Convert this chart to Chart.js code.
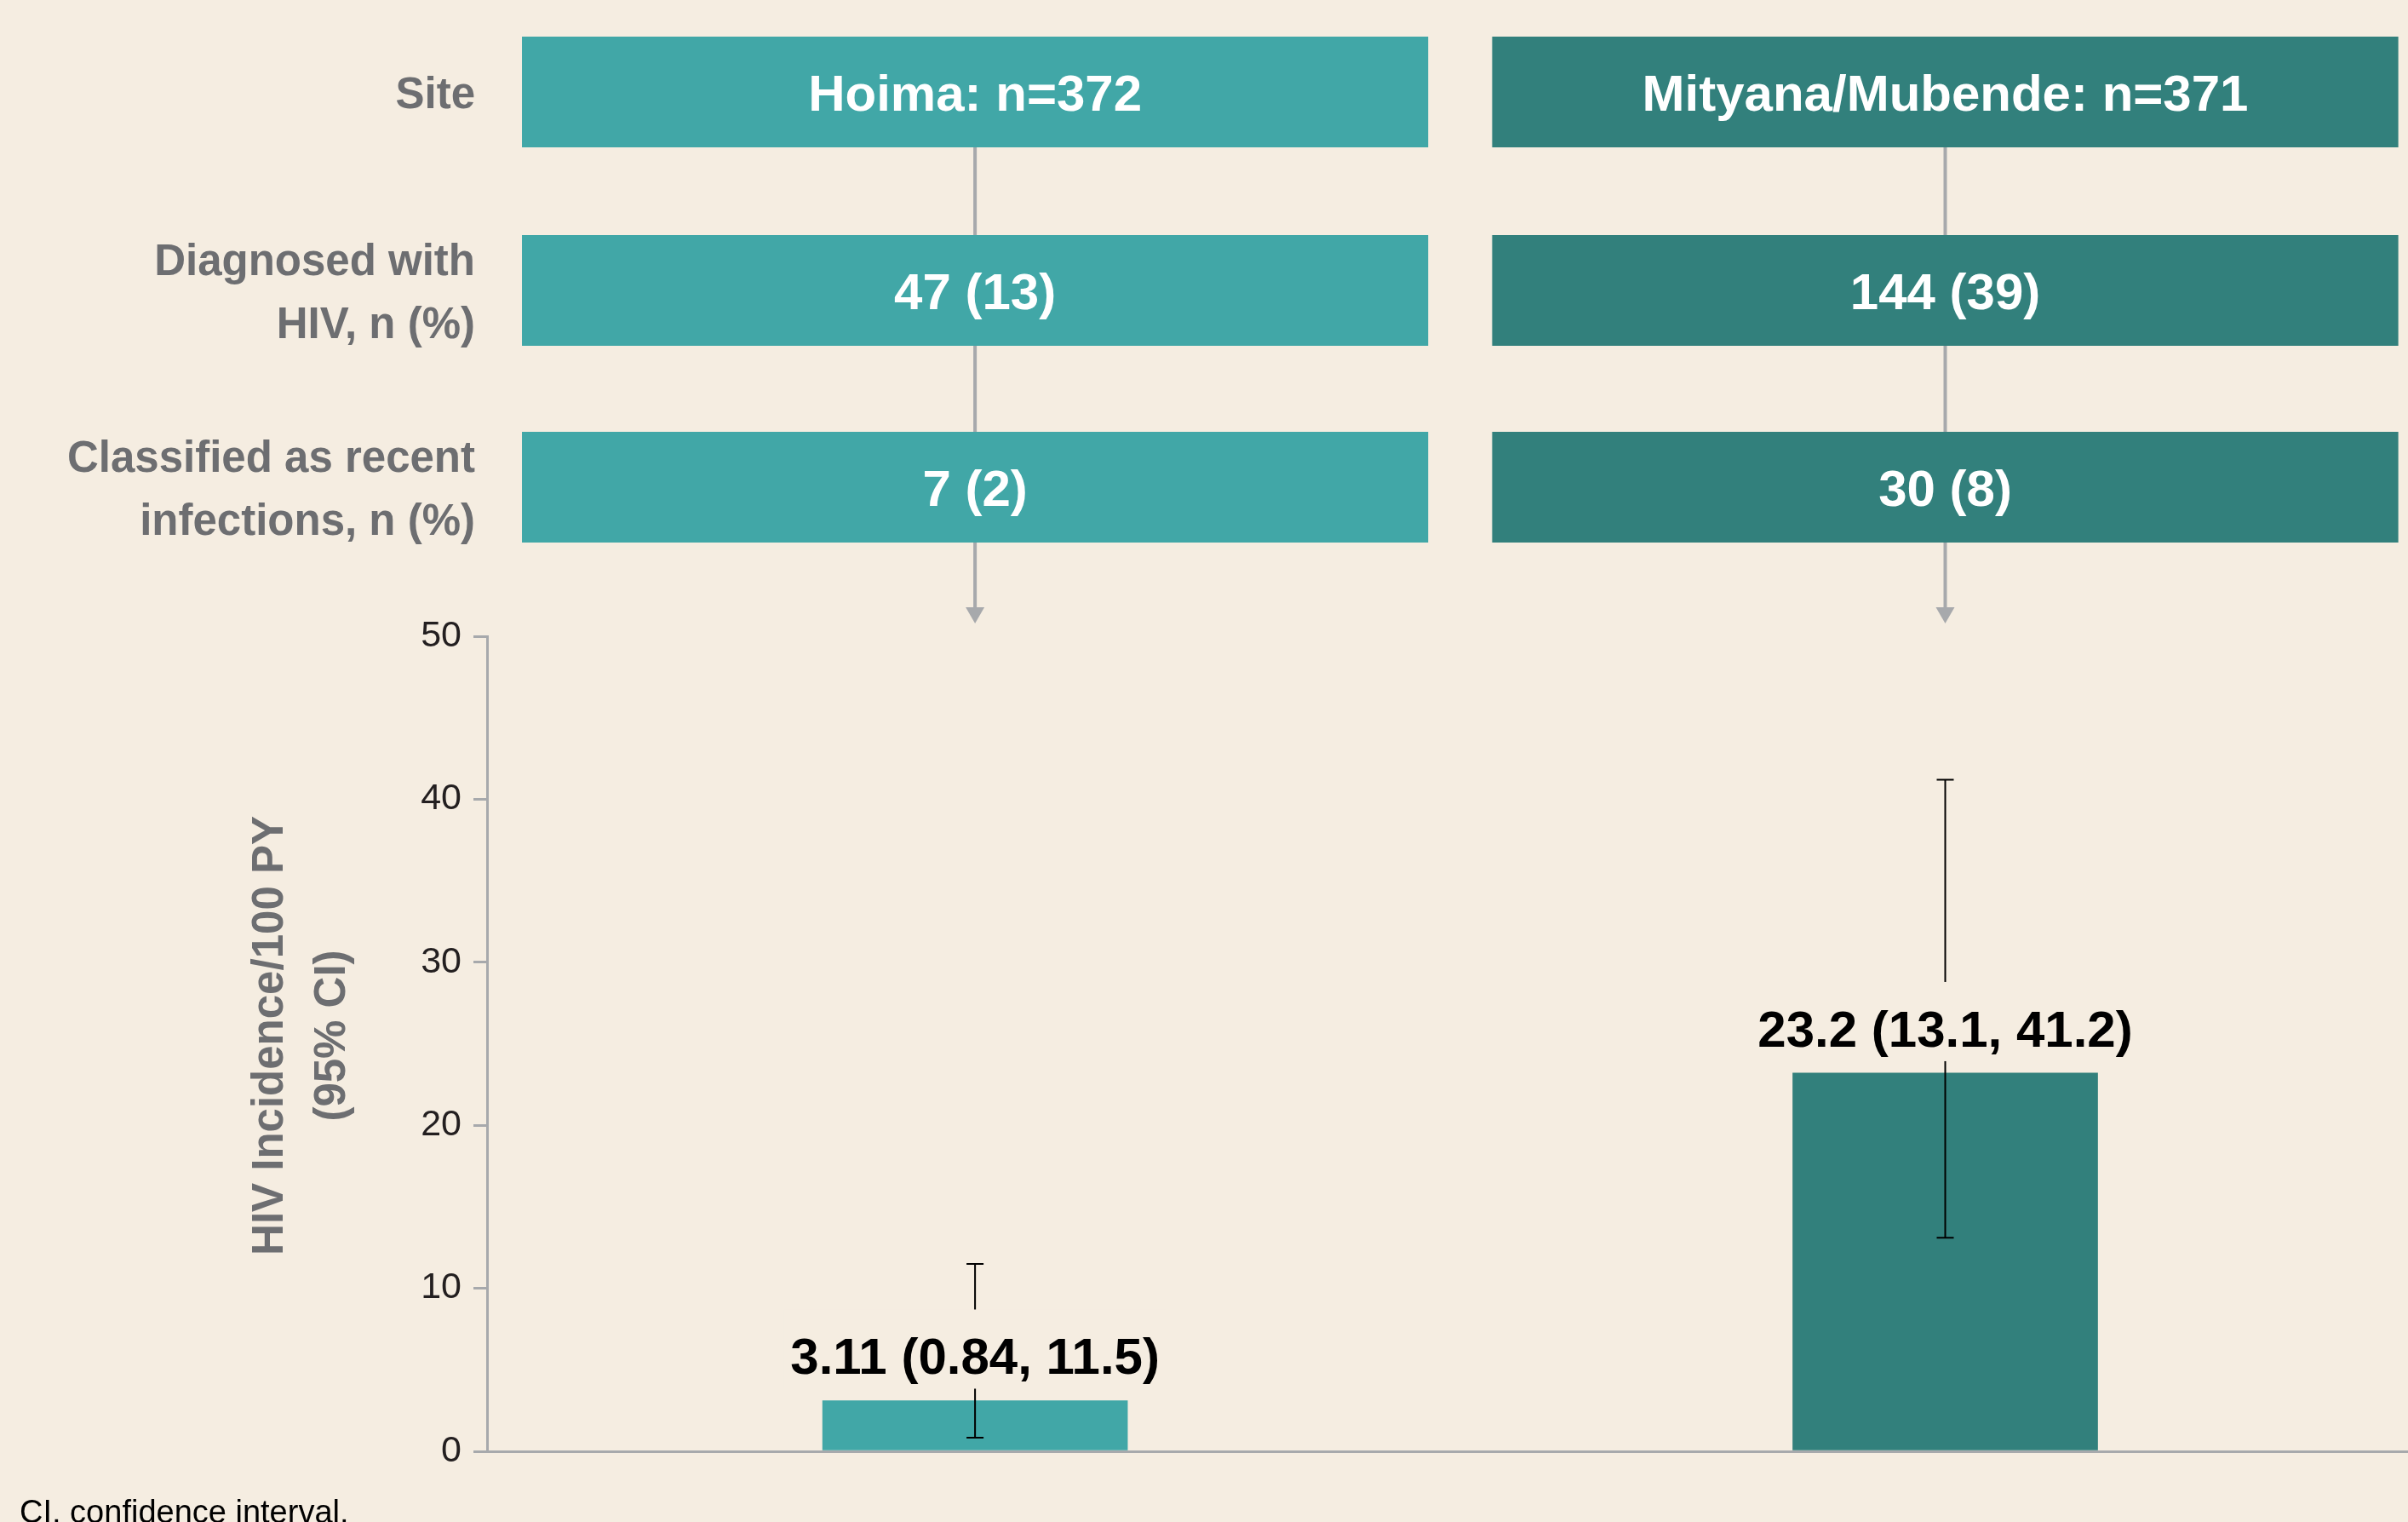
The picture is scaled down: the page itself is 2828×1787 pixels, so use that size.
<!DOCTYPE html>
<html>
<head>
<meta charset="utf-8">
<script src="https://cdn.jsdelivr.net/npm/chart.js@4/dist/chart.umd.min.js"></script>
<style>
  html, body { margin: 0; padding: 0; background: #f5ede1; overflow: hidden; }
  #wrap { width: 2828px; height: 1787px; position: relative; }
  canvas { display: block; }
</style>
</head>
<body>
<div id="wrap"><canvas id="c" width="2828" height="1787"></canvas></div>
<script>
// ---- data ----
const sites = ['Hoima', 'Mityana/Mubende'];
const sampleN = [372, 371];
const diagnosedN = [47, 144];
const diagnosedPct = [13, 39];
const recentN = [7, 30];
const recentPct = [2, 8];
const incidence = [3.11, 23.2];
const ciLow = [0.84, 13.1];
const ciHigh = [11.5, 41.2];
const rowLabels = [['Site'], ['Diagnosed with', 'HIV, n (%)'], ['Classified as recent', 'infections, n (%)']];
const yTitle = ['HIV Incidence/100 PY', '(95% CI)'];
const yTicks = [0, 10, 20, 30, 40, 50];
const footnote = 'CI, confidence interval.';

// ---- styles ----
const siteColors = ['#41a7a7', '#32807c'];
const BG = '#f5ede1';
const GRAY_TEXT = '#6d6e71';
const AXIS_GRAY = '#a7a9ac';
const FONT = '"Liberation Sans", Arial, Helvetica, sans-serif';

const rowTops = [43, 276, 507];
const rowH = 130;

const decor = {
  id: 'decor',
  beforeDraw(chart) {
    const ctx = chart.ctx;
    ctx.save();
    ctx.fillStyle = BG;
    ctx.fillRect(0, 0, chart.width, chart.height);
    ctx.restore();
  },
  afterDatasetsDraw(chart) {
    const ctx = chart.ctx;
    const xs = chart.scales.x, ys = chart.scales.y;
    const unit = xs.getPixelForValue(2) - xs.getPixelForValue(1);
    const rowTexts = [
      sites.map((s, i) => `${s}: n=${sampleN[i]}`),
      diagnosedN.map((n, i) => `${n} (${diagnosedPct[i]})`),
      recentN.map((n, i) => `${n} (${recentPct[i]})`)
    ];
    ctx.save();
    // flow boxes & connectors
    sites.forEach((s, i) => {
      const cx = xs.getPixelForValue(i + 1);
      const half = unit * 0.467;
      ctx.strokeStyle = AXIS_GRAY;
      ctx.lineWidth = 4;
      ctx.beginPath();
      for (let r = 0; r < rowTops.length - 1; r++) {
        ctx.moveTo(cx, rowTops[r] + rowH);
        ctx.lineTo(cx, rowTops[r + 1]);
      }
      ctx.moveTo(cx, rowTops[2] + rowH);
      ctx.lineTo(cx, 715);
      ctx.stroke();
      ctx.fillStyle = AXIS_GRAY;
      ctx.beginPath();
      ctx.moveTo(cx - 11, 713);
      ctx.lineTo(cx + 11, 713);
      ctx.lineTo(cx, 732);
      ctx.closePath();
      ctx.fill();
      rowTops.forEach((top, r) => {
        ctx.fillStyle = siteColors[i];
        ctx.fillRect(cx - half, top, half * 2, rowH);
        ctx.fillStyle = '#ffffff';
        ctx.font = `bold 60px ${FONT}`;
        ctx.textAlign = 'center';
        ctx.textBaseline = 'middle';
        ctx.fillText(rowTexts[r][i], cx, top + rowH / 2 + 5);
      });
    });
    // row labels
    ctx.fillStyle = GRAY_TEXT;
    ctx.font = `bold 51px ${FONT}`;
    ctx.textAlign = 'right';
    ctx.textBaseline = 'middle';
    rowLabels.forEach((lines, r) => {
      const cy = rowTops[r] + rowH / 2;
      const lh = 74;
      lines.forEach((ln, k) => {
        ctx.fillText(ln, 558, cy + (k - (lines.length - 1) / 2) * lh + 5);
      });
    });
    // y title
    ctx.font = `bold 51px ${FONT}`;
    ctx.textAlign = 'center';
    ctx.textBaseline = 'alphabetic';
    const baseX = [332, 405];
    yTitle.forEach((t, k) => {
      ctx.save();
      ctx.translate(baseX[k], 1216);
      ctx.rotate(-Math.PI / 2);
      ctx.fillText(t, 0, 0);
      ctx.restore();
    });
    // error bars and labels
    incidence.forEach((v, i) => {
      const cx = xs.getPixelForValue(i + 1);
      const yTop = ys.getPixelForValue(ciHigh[i]);
      const yBot = ys.getPixelForValue(ciLow[i]);
      ctx.strokeStyle = '#000000';
      ctx.lineWidth = 2;
      ctx.beginPath();
      ctx.moveTo(cx, yTop); ctx.lineTo(cx, yBot);
      ctx.moveTo(cx - 10, yTop); ctx.lineTo(cx + 10, yTop);
      ctx.moveTo(cx - 10, yBot); ctx.lineTo(cx + 10, yBot);
      ctx.stroke();
      const barTop = ys.getPixelForValue(v);
      const base = barTop - 31;
      const txt = `${v} (${ciLow[i]}, ${ciHigh[i]})`;
      ctx.font = `bold 60px ${FONT}`;
      const w = ctx.measureText(txt).width;
      ctx.fillStyle = BG;
      ctx.fillRect(cx - w / 2 - 8, base - 76, w + 16, 93);
      ctx.fillStyle = '#000000';
      ctx.textAlign = 'center';
      ctx.textBaseline = 'alphabetic';
      ctx.fillText(txt, cx, base);
    });
    // footnote
    ctx.fillStyle = '#000000';
    ctx.font = `38px ${FONT}`;
    ctx.textAlign = 'left';
    ctx.textBaseline = 'alphabetic';
    ctx.fillText(footnote, 23, 1788);
    ctx.restore();
  }
};

new Chart(document.getElementById('c'), {
  type: 'bar',
  data: {
    datasets: [{
      data: incidence.map((v, i) => ({ x: i + 1, y: v })),
      backgroundColor: siteColors,
      borderWidth: 0,
      barThickness: 358
    }]
  },
  options: {
    responsive: false,
    animation: false,
    devicePixelRatio: 1,
    layout: { padding: { top: 747, bottom: 83, left: 0, right: 0 } },
    plugins: { legend: { display: false }, tooltip: { enabled: false } },
    scales: {
      x: {
        type: 'linear',
        offset: false,
        min: 0.497,
        max: 2.477,
        grid: { display: false, drawTicks: false, offset: false },
        ticks: { display: false },
        border: { display: true, color: AXIS_GRAY, width: 3 },
        afterFit: s => { s.height = 0; }
      },
      y: {
        min: 0,
        max: 50,
        afterBuildTicks: s => { s.ticks = yTicks.map(v => ({ value: v })); },
        ticks: { font: { family: FONT, size: 43 }, color: '#231f20', padding: 14 },
        grid: { drawOnChartArea: false, drawTicks: true, tickLength: 16, color: AXIS_GRAY, lineWidth: 3 },
        border: { display: true, color: AXIS_GRAY, width: 3 },
        afterFit: s => { s.width = 572; }
      }
    }
  },
  plugins: [decor]
});
</script>
</body>
</html>
